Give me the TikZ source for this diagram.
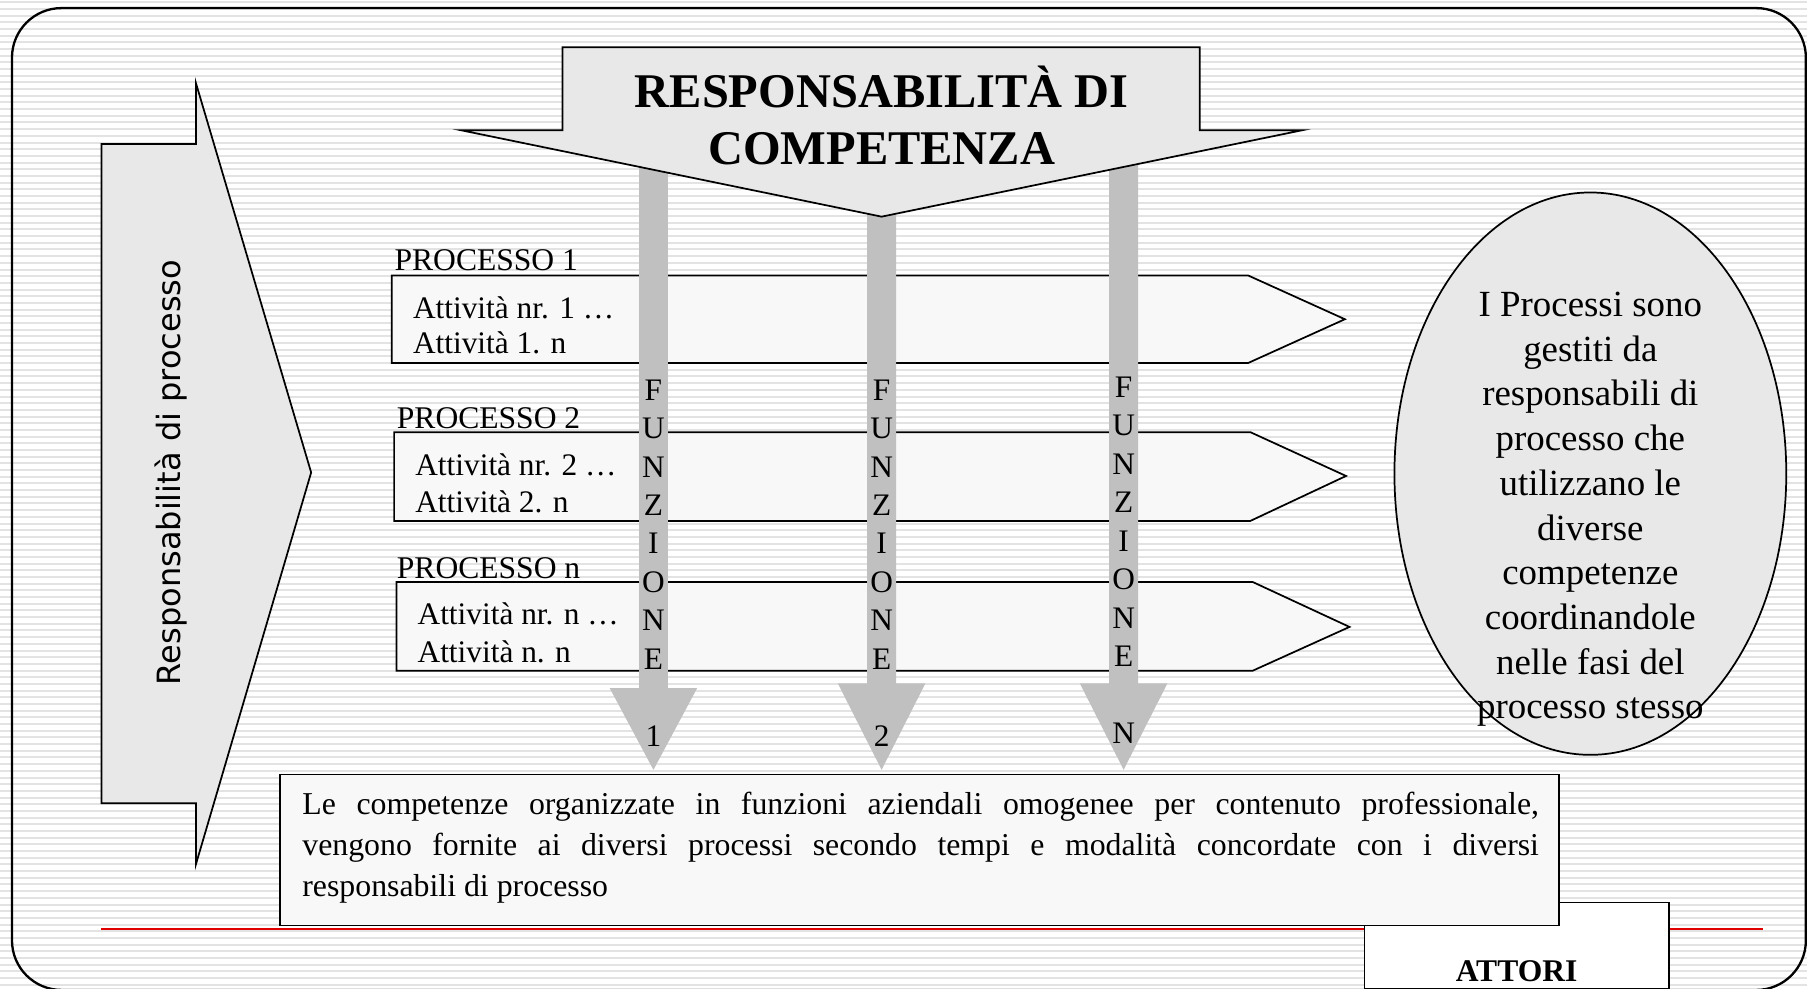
\documentclass[tikz,border=0pt]{standalone}
\usepackage{fontspec}
\setmainfont{Liberation Serif}
\newfontfamily\dvsans{DejaVu Sans}
\usetikzlibrary{shapes.geometric}
\definecolor{stripegray}{HTML}{E3E3E3}
\definecolor{shapegray}{HTML}{E8E8E8}
\definecolor{procfill}{HTML}{F8F8F8}
\definecolor{fungray}{HTML}{C0C0C0}
\definecolor{redline}{HTML}{E00000}
\begin{document}
\begin{tikzpicture}[x=0.5pt,y=-0.5pt,
  outl/.style={draw=black,line width=0.75pt,line join=miter},
  bigshape/.style={outl,fill=shapegray},
  procshape/.style={outl,fill=procfill},
  funshape/.style={fill=fungray},
  proclab/.style={inner sep=0pt,anchor=base west,font=\fontsize{13.7}{15.5}\selectfont},
  actlab/.style={inner sep=0pt,anchor=base west,font=\fontsize{13.6}{15.5}\selectfont},
  funlab/.style={inner sep=0pt,align=center,font=\fontsize{13.6}{16.7}\selectfont},
  titlelab/.style={inner sep=0pt,anchor=base,font=\fontsize{21}{25}\selectfont\bfseries},
]
\useasboundingbox (0,0) rectangle (1568,858);
% background stripes
\fill[white] (0,0) rectangle (1568,858);
\foreach \i in {0,...,148} \fill[stripegray] (0,{\i*5.8+1}) rectangle (1568,{\i*5.8+2.75});
% frame
\draw[line width=1pt,rounded corners=21.5pt] (10.4,7) rectangle (1567,859);

% left arrow
\filldraw[bigshape] (88,125) -- (170,125) -- (170,72) -- (270,410) -- (170,750) -- (170,697) -- (88,697) -- cycle;
\node[rotate=90,inner sep=0pt,font=\dvsans\fontsize{13.9}{16}\selectfont] (rp) at (148,410) {Responsabilità di processo};

% process arrows
\filldraw[procshape] (340,239) -- (1083,239) -- (1167,277) -- (1083,315) -- (340,315) -- cycle;
\filldraw[procshape] (342,375) -- (1085,375) -- (1168,413) -- (1085,452) -- (342,452) -- cycle;
\filldraw[procshape] (344,505) -- (1087,505) -- (1171,544) -- (1087,582) -- (344,582) -- cycle;
\node[proclab] (p1) at (342,235) {PROCESSO 1};
\node[proclab] (p2) at (344,372) {PROCESSO 2};
\node[proclab] (pn) at (344,502) {PROCESSO n};
\node[actlab] (a11) at (358,276) {Attività nr. 1 …};
\node[actlab] (a12) at (358,307) {Attività 1. n};
\node[actlab] (a21) at (360,413) {Attività nr. 2 …};
\node[actlab] (a22) at (360,445) {Attività 2. n};
\node[actlab] (an1) at (362,542) {Attività nr. n …};
\node[actlab] (an2) at (362,575) {Attività n. n};

% function arrows
\foreach \cx/\ht in {567/597,765/593,975/593}{
  \fill[funshape] ({\cx-12.5},113) -- ({\cx+12.5},113) -- ({\cx+12.5},\ht) -- ({\cx+38},\ht)
     -- (\cx,668) -- ({\cx-38},\ht) -- ({\cx-12.5},\ht) -- cycle;
}
\node[funlab] (f1) at (567,488.5) {F\\U\\N\\Z\\I\\O\\N\\E\\[16.7pt]1};
\node[funlab] (f2) at (765,488.5) {F\\U\\N\\Z\\I\\O\\N\\E\\[16.7pt]2};
\node[funlab] (fn) at (975,486) {F\\U\\N\\Z\\I\\O\\N\\E\\[16.7pt]N};

% big top arrow
\filldraw[bigshape] (488,41) -- (1041,41) -- (1041,113) -- (1130,113) -- (765,188) -- (400,113) -- (488,113) -- cycle;
\node[titlelab] (t1) at (765,93) {RESPONSABILITÀ DI};
\node[titlelab] (t2) at (765,143) {COMPETENZA};

% ellipse
\node[ellipse,draw=black,line width=0.75pt,fill=shapegray,minimum width=170pt,minimum height=244pt,inner sep=0pt] (ell) at (1380,411) {};
\node[inner sep=0pt,align=center,font=\fontsize{16}{19.4}\selectfont] (elltxt) at (1380,442)
 {I Processi sono\\gestiti da\\responsabili di\\processo che\\utilizzano le\\diverse\\competenze\\coordinandole\\nelle fasi del\\processo stesso};

% red line
\draw[redline,line width=0.6pt] (88,806) -- (1530,806);

% ATTORI box
\draw[outl,fill=white] (1184,783) rectangle (1448,858);
\node[inner sep=0pt,anchor=base,font=\fontsize{13.7}{16}\selectfont\bfseries] (att) at (1316,852) {ATTORI};

% bottom box
\draw[outl,fill=procfill] (243,672) rectangle (1353,803);
\node[inner sep=0pt,anchor=north west,text width=536.5pt,align=justify,font=\fontsize{13.8}{17.75}\selectfont] (bt) at (262,687)
 {Le competenze organizzate in funzioni aziendali omogenee per contenuto professionale,\linebreak vengono fornite ai diversi processi secondo tempi e modalità concordate con i diversi\linebreak responsabili di processo};
\end{tikzpicture}
\end{document}
